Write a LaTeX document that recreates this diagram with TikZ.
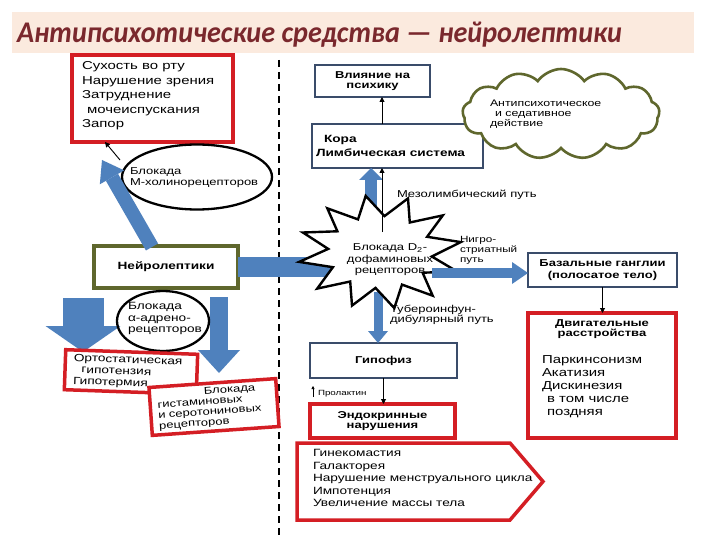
\documentclass[tikz,border=0pt]{standalone}
\usepackage{fontspec}
\setmainfont{Liberation Sans}[FakeStretch=1.3]
\newfontfamily\titlefont{Carlito}[FakeStretch=0.94]
\usetikzlibrary{shapes.geometric,shapes.symbols,arrows.meta,calc}
\definecolor{redc}{RGB}{212,30,36}
\definecolor{boxblue}{RGB}{58,76,106}
\definecolor{olivec}{RGB}{95,103,45}
\definecolor{arrowblue}{RGB}{79,129,189}
\definecolor{titlec}{RGB}{122,40,45}
\definecolor{bandc}{RGB}{251,234,222}
\begin{document}
\begin{tikzpicture}[x=1pt,y=-1pt,
  every node/.style={inner sep=0pt, outer sep=0pt},
  redbox/.style={draw=redc, line width=3.5pt, fill=white},
  bluebox/.style={draw=boxblue, line width=2.2pt, fill=white},
  olivebox/.style={draw=olivec, line width=4pt, fill=white},
  thinarrow/.style={draw=black, line width=0.9pt, -{Triangle[length=5pt,width=5pt]}},
  barrow/.style n args={3}{draw=arrowblue, line width=#1pt, -{Triangle[width=#2pt,length=#3pt,line width=0pt]}},
  bl/.style={font=\bfseries\fontsize{10}{10.5}\selectfont, align=center},
]
\useasboundingbox (0,0) rectangle (720,540);
\fill[white] (0,0) rectangle (720,540);
% title
\fill[bandc] (12,12) rectangle (694,53);
\node[anchor=base west, text=titlec, font=\titlefont\bfseries\itshape\fontsize{30}{36}\selectfont] (title) at (17,43) {Антипсихотические средства — нейролептики};
% dashed divider
\draw[dashed, dash pattern=on 7pt off 5pt, line width=1.3pt] (279,60) -- (279,535);

% left top
\node[redbox, minimum width=161pt, minimum height=87pt] (dry) at (152.5,98.5) {};
\node[anchor=north west, align=left, font=\fontsize{11.5}{14.5}\selectfont] (drytxt) at (82,61.5)
  {Сухость во рту\\Нарушение зрения\\Затруднение\\\hspace*{5pt}мочеиспускания\\Запор};
\node[ellipse, draw=black, line width=2.3pt, fill=white, minimum width=150pt, minimum height=65pt] (ellM) at (197,177) {};
\node[anchor=north west, align=left, font=\fontsize{10}{11}\selectfont] (ellMtxt) at (130,167.7)
  {Блокада\\М-холинорецепторов};

\node[olivebox, minimum width=144pt, minimum height=42pt, font=\bfseries\fontsize{10.5}{12}\selectfont] (neuro) at (166,267) {Нейролептики};

% right top
\node[bluebox, minimum width=115pt, minimum height=32pt, bl] (vl) at (372.5,81) {Влияние на\\психику};
\node[bluebox, minimum width=171pt, minimum height=44pt] (kora) at (397.5,146) {};
\node[anchor=north west, align=left, font=\bfseries\fontsize{10.5}{14}\selectfont] (koratxt) at (316,135.5)
  {\hspace*{8pt}Кора\\Лимбическая система};
\node[cloud, cloud puffs=13, cloud puff arc=110, aspect=2.2, draw=olivec, line width=2.6pt, fill=white,
  minimum width=197pt, minimum height=90pt] (cloud) at (561,114) {};
\node[anchor=north west, align=left, font=\fontsize{9.5}{10}\selectfont] (cloudtxt) at (490,100.3)
  {Антипсихотическое\\\hspace*{5pt}и седативное\\действие};

\node[bluebox, minimum width=149pt, minimum height=34pt, bl, font=\bfseries\fontsize{10}{12.5}\selectfont] (baz) at (602.5,270) {Базальные ганглии\\(полосатое тело)};
\node[redbox, minimum width=148pt, minimum height=125pt] (dvig) at (602,375.5) {};
\node[anchor=north, bl] (dvighead) at (602,319.5) {Двигательные\\расстройства};
\node[anchor=north west, align=left, font=\fontsize{11.5}{13}\selectfont] (dviglist) at (542,355.7)
  {Паркинсонизм\\Акатизия\\Дискинезия\\\hspace*{5pt}в том числе\\\hspace*{5pt}поздняя};

\node[bluebox, minimum width=147pt, minimum height=35pt, bl] (gip) at (383.5,360.5) {Гипофиз};
\node[redbox, minimum width=145pt, minimum height=34pt, bl] (endo) at (382.5,421) {Эндокринные\\нарушения};
\draw[redc, line width=3.5pt, fill=white, line join=miter] (297,443) -- (510,443) -- (543,481.5) -- (510,520) -- (297,520) -- cycle;
\node[anchor=north west, align=left, font=\fontsize{10.5}{12.5}\selectfont] (pent) at (313,449.5)
  {Гинекомастия\\Галакторея\\Нарушение менструального цикла\\Импотенция\\Увеличение массы тела};

% blue arrows under the star
\coordinate (star) at (380,252);
\draw[barrow={20}{34}{18}] (neuro.east) -- (neuro.east -| star);
\coordinate (s1) at (371,240);
\draw[barrow={12}{24}{12}] (s1) -- (s1 |- kora.south);
\coordinate (s4) at (378,292);
\draw[barrow={9}{20}{12}] (s4) -- (s4 |- gip.north);

% starburst
\filldraw[fill=white, draw=black, line width=2.4pt, line join=miter, shift={(5,2)}]
  (455.8,240.1) -- (422.1,234.8) -- (437.8,213.4) -- (404.8,220.5) -- (403,196.4) -- (379.5,214.1)
  -- (360.7,193.9) -- (353,217.4) -- (322.3,206.3) -- (332.4,229.3) -- (297.9,230.5) -- (323.2,246.9)
  -- (294.2,259.9) -- (327.9,265.2) -- (312.2,286.6) -- (345.2,279.5) -- (347,303.6) -- (370.5,285.9)
  -- (389.3,306.1) -- (397,282.6) -- (427.7,293.7) -- (417.6,270.7) -- (452.1,269.5) -- (426.8,254.5) -- cycle;
\node[align=center, font=\fontsize{10}{11.5}\selectfont] (startxt) at (390,260)
  {Блокада D\textsubscript{2}-\\дофаминовых\\рецепторов};

% arrows from the star
\coordinate (s3) at (432,273);
\draw[barrow={10}{22}{16}] (s3) -- (s3 -| baz.west);
\coordinate (s2) at (382,232);
\draw[thinarrow] (s2) -- (s2 |- kora.south);
\draw[thinarrow] (kora.north -| s2) -- (vl.south -| s2);
\draw[thinarrow] (baz.south) -- (baz.south |- dvig.north);
\draw[thinarrow] (gip.south) -- (gip.south |- endo.north);

% labels
\node[anchor=base west, font=\fontsize{10}{10}\selectfont] (mezo) at (397,197) {Мезолимбический путь};
\node[anchor=north west, align=left, font=\fontsize{9}{10}\selectfont] (nigro) at (460,236.5) {Нигро-\\стриатный\\путь};
\node[anchor=north west, align=left, font=\fontsize{10}{10.5}\selectfont] (tuber) at (390,304.7) {Тубероинфун-\\дибулярный путь};
\node[anchor=base west, font=\fontsize{7.5}{8}\selectfont] (prl) at (318,395) {Пролактин};
\coordinate (p1) at (313,397);
\coordinate (p2) at (313,386);
\draw[line width=0.6pt, -{Triangle[length=3pt,width=3pt]}] (p1) -- (p2);

% left arrows
\coordinate (mtip) at (102,160);
\coordinate (ntail) at (152,247);
\draw[barrow={14}{28}{20}] (ntail) -- (mtip);
\coordinate (m2) at (120,160);
\draw[thinarrow] (m2) -- ($(dry.south west)+(33,0)$);
\coordinate (la1) at (83,298);
\coordinate (la2) at (83,352);
\draw[barrow={41}{75}{26}] (la1) -- (la2);
\coordinate (lb1) at (219,297);
\coordinate (lb2) at (219,373);
\draw[barrow={18}{42}{23}] (lb1) -- (lb2);

\node[ellipse, draw=black, line width=2.3pt, minimum width=92pt, minimum height=60pt] (ellA) at (163,321) {};
\node[anchor=north west, align=left, font=\fontsize{10.5}{11.5}\selectfont] (ellAtxt) at (128,302.5)
  {Блокада\\α-адрено-\\рецепторов};

\node[redbox, rotate=-2, minimum width=132pt, minimum height=40pt, text width=115pt, align=left,
  font=\fontsize{10.5}{11.5}\selectfont] (ortho) at (131,372)
  {Ортостатическая\\\hspace*{8pt}гипотензия\\Гипотермия};
\node[redbox, rotate=4, minimum width=127pt, minimum height=48pt, text width=112pt, align=left,
  font=\fontsize{10}{10.5}\selectfont] (hist) at (214,407)
  {\hspace*{47pt}Блокада\\гистаминовых\\и серотониновых\\рецепторов};
\end{tikzpicture}
\end{document}
